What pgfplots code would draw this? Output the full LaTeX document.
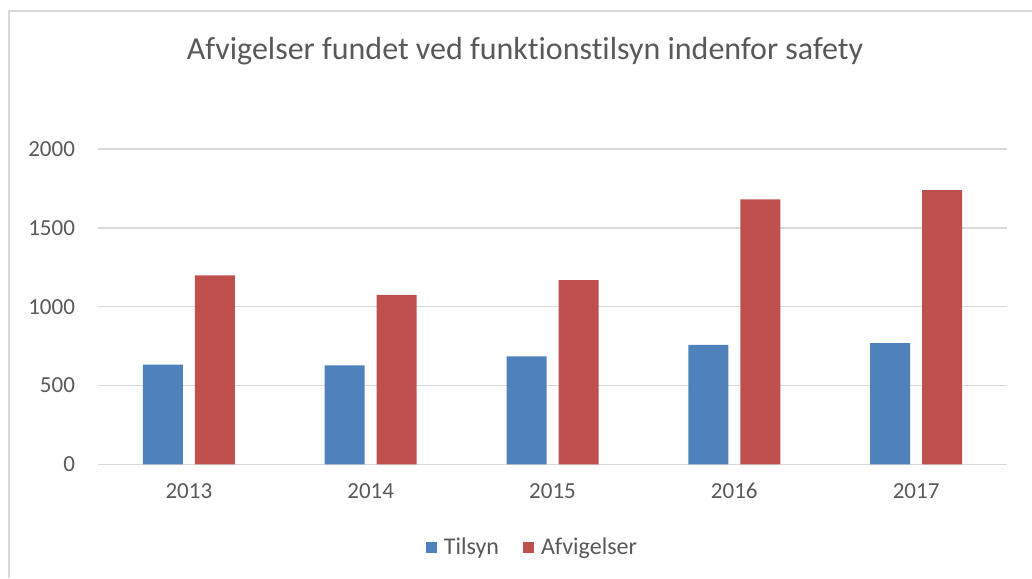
\documentclass[border=0pt]{standalone}
\usepackage{pgfplots}
\pgfplotsset{compat=1.18}
\usepackage{fontspec}
\setmainfont{Carlito}[Ligatures=NoCommon]
\definecolor{txt}{HTML}{595959}
\definecolor{gridc}{HTML}{D9D9D9}
\definecolor{tilsyn}{HTML}{4F81BD}
\definecolor{afvig}{HTML}{C0504D}

\begin{document}
\begin{tikzpicture}
\useasboundingbox (0,0) rectangle (516pt,289pt);
\draw[gridc, line width=1pt] (4.5pt,0) -- (4.5pt,283.5pt) -- (516pt,283.5pt);
\node[anchor=base, text=txt, font=\fontsize{16}{19}\selectfont] at (262.5pt,259pt)
  {Afvigelser fundet ved funktionstilsyn indenfor safety};
\begin{axis}[
  at={(49pt,56.85pt)}, anchor=south west,
  scale only axis, width=454.5pt, height=157.65pt,
  ybar=6pt, bar width=20pt,
  xmin=-0.5, xmax=4.5, ymin=0, ymax=2000,
  xtick=data, xticklabels={2013,2014,2015,2016,2017},
  ytick={0,500,...,2000},
  major tick length=0pt,
  axis x line*=bottom, axis y line*=left,
  x axis line style={gridc, line width=0.8pt, -},
  y axis line style={draw=none},
  ymajorgrids, grid style={gridc, line width=0.8pt},
  ticklabel style={text=txt, font=\fontsize{11.5}{13}\selectfont},
  /pgf/number format/assume math mode=true,
  /pgf/number format/1000 sep={},
  xticklabel style={yshift=-6pt},
  yticklabel style={xshift=-8pt},
  legend style={at={(0.479,-0.265)}, anchor=center, draw=none,
    legend columns=2, font=\fontsize{12}{13}\selectfont, text=txt,
    /tikz/every odd column/.append style={column sep=1.5pt},
    /tikz/every even column/.append style={column sep=10pt}},
  legend image code/.code={\fill[#1] (0pt,-2.75pt) rectangle (5.5pt,2.75pt);},
]
\addplot[fill=tilsyn, draw=none] coordinates {(0,632) (1,628) (2,685) (3,757) (4,769)};
\addplot[fill=afvig, draw=none] coordinates {(0,1198) (1,1074) (2,1169) (3,1680) (4,1739)};
\legend{Tilsyn, Afvigelser}
\end{axis}
\end{tikzpicture}
\end{document}
